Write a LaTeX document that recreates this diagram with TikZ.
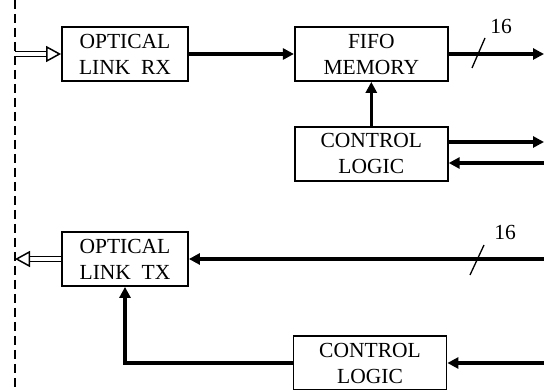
\documentclass[tikz,border=0pt]{standalone}
\usepackage{fontspec}
\setmainfont{Liberation Serif}
\usetikzlibrary{positioning, arrows.meta}

\begin{document}
\begin{tikzpicture}[
    x=1pt, y=-1pt,
    node distance=44pt and 105pt,
    box/.style={rectangle, draw, line width=1.8pt, minimum height=54pt, align=center, inner sep=2pt, font=\fontsize{21.5}{26}\selectfont},
    link/.style={box, minimum width=126pt},
    blk/.style={box, minimum width=153pt},
    lbl/.style={font=\fontsize{21.5}{26}\selectfont},
    arrow/.style={-{Triangle[length=11pt,width=11pt]}, line width=3.6pt},
    optic/.style={double, double distance=3.5pt, line width=1.5pt, -{Triangle[fill=white, length=15pt, width=16pt, line width=1.5pt]}},
    bus/.style={line width=1.3pt}
  ]
  \useasboundingbox (0,0) rectangle (544,390);

  % boundary of the unit
  \coordinate (top) at (15,0);
  \coordinate (bot) at (15,390);
  \draw[line width=1.4pt, dash pattern=on 9pt off 5pt] (top) -- (bot);

  % receive path
  \node[link] (RX) at (125,54) {OPTICAL\\LINK\ \ RX};
  \node[blk, right=105pt of RX] (FIFO) {FIFO\\MEMORY};
  \node[blk, below=44pt of FIFO] (CTRLR) {CONTROL\\LOGIC};

  % transmit path
  \node[link] (TX) at (125,259) {OPTICAL\\LINK\ \ TX};
  \node[blk] (CTRLT) at (370,363) {CONTROL\\LOGIC};

  % free ends
  \coordinate (rxin) at (15,54);
  \coordinate (txout) at (15,259);
  \coordinate (dout) at (544,54);
  \coordinate (cout) at (544,142);
  \coordinate (cin) at (544,163);
  \coordinate (din) at (544,259);
  \coordinate (tin) at (544,363);

  % arrows
  \draw[optic] (rxin) -- (RX);
  \draw[arrow] (RX) -- (FIFO);
  \draw[arrow] (FIFO) -- (dout);
  \draw[arrow] (CTRLR) -- (FIFO);
  \draw[arrow] (CTRLR.east |- cout) -- (cout);
  \draw[arrow] (cin) -- (CTRLR.east |- cin);
  \draw[arrow] (din) -- (TX);
  \draw[arrow] (tin) -- (CTRLT);
  \draw[arrow] (CTRLT.west) -| (TX.south);
  \draw[optic] (TX) -- (txout);

  % bus widths
  \coordinate (sa1) at (472,68);
  \coordinate (sa2) at (485,38);
  \draw[bus] (sa1) -- (sa2);
  \node[lbl] (busA) at (501,26) {16};
  \coordinate (sb1) at (470,275);
  \coordinate (sb2) at (484,245);
  \draw[bus] (sb1) -- (sb2);
  \node[lbl] (busB) at (505,232) {16};
\end{tikzpicture}
\end{document}
